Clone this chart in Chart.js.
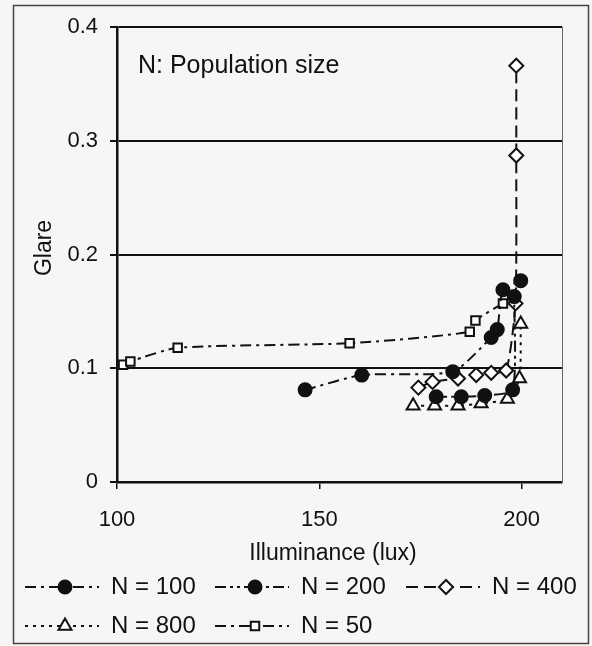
<!DOCTYPE html>
<html>
<head>
<meta charset="utf-8">
<script src="https://cdn.jsdelivr.net/npm/chart.js@4/dist/chart.umd.min.js"></script>
<style>
  html, body { margin: 0; padding: 0; background: #f6f6f4; }
  canvas { display: block; }
</style>
</head>
<body>
<canvas id="glareChart" width="592" height="646"></canvas>
<script>
// Glare vs. illuminance for different population sizes
const seriesLabels = ["N = 100", "N = 200", "N = 400", "N = 800", "N = 50"];

const lux100 = [146.5, 160.5, 183.0, 192.5, 194.0, 195.4, 199.8];
const glare100 = [0.081, 0.094, 0.097, 0.127, 0.134, 0.169, 0.177];

const lux200 = [178.9, 185.1, 190.9, 197.8, 198.2];
const glare200 = [0.075, 0.075, 0.076, 0.081, 0.163];

const lux400 = [174.5, 178.0, 184.3, 188.8, 192.5, 196.2, 198.5, 198.7, 198.7];
const glare400 = [0.083, 0.088, 0.091, 0.094, 0.096, 0.098, 0.157, 0.287, 0.366];

const lux800 = [173.2, 178.5, 184.3, 190.0, 196.5, 199.5, 199.8];
const glare800 = [0.067, 0.067, 0.067, 0.069, 0.073, 0.091, 0.139];

const lux50 = [101.5, 103.3, 115.0, 157.5, 187.2, 188.6, 195.4];
const glare50 = [0.103, 0.106, 0.118, 0.122, 0.132, 0.142, 0.157];

const xTicks = [100, 150, 200];
const yTicks = [0, 0.1, 0.2, 0.3, 0.4];

const FONT = "'Liberation Sans', Arial, sans-serif";
Chart.defaults.font.family = FONT;
Chart.defaults.color = "#111";

function toPoints(xs, ys) {
    return xs.map((x, i) => ({ x: x, y: ys[i] }));
}

function makeSeries(label, xs, ys, dash, style, fill, radius) {
    return {
        label: label,
        data: toPoints(xs, ys),
        showLine: true,
        borderColor: "#111",
        borderWidth: 2,
        borderDash: dash,
        tension: 0.2,
        pointStyle: style,
        pointRadius: radius,
        pointBorderWidth: 2,
        pointBackgroundColor: fill,
        pointBorderColor: "#111"
    };
}

const datasets = [
    makeSeries(seriesLabels[0], lux100, glare100, [11, 5, 3, 5], "circle", "#111", 6.5),
    makeSeries(seriesLabels[1], lux200, glare200, [11, 4, 3, 4, 3, 4], "circle", "#111", 6.5),
    makeSeries(seriesLabels[2], lux400, glare400, [12, 6], "rectRot", "#fff", 7),
    makeSeries(seriesLabels[3], lux800, glare800, [3, 5], "triangle", "#fff", 7.5),
    makeSeries(seriesLabels[4], lux50, glare50, [11, 5, 3, 5], "rect", "#fff", 6)
];

// legend slots: [left end of sample line, row y]
const legendSlots = [[25, 587], [215, 587], [406, 587], [25, 626], [215, 626]];

const decorations = {
    id: "decorations",
    beforeDraw(chart) {
        const ctx = chart.ctx;
        ctx.save();
        ctx.fillStyle = "#f6f6f4";
        ctx.fillRect(0, 0, chart.width, chart.height);
        ctx.strokeStyle = "#444";
        ctx.lineWidth = 1.5;
        ctx.strokeRect(13.5, 5.5, chart.width - 17, chart.height - 8);
        ctx.restore();
    },
    afterDraw(chart) {
        const ctx = chart.ctx;
        const area = chart.chartArea;
        ctx.save();
        // right edge of the plot box
        ctx.strokeStyle = "#666";
        ctx.lineWidth = 1;
        ctx.beginPath();
        ctx.moveTo(area.right + 0.5, area.top);
        ctx.lineTo(area.right + 0.5, area.bottom);
        ctx.stroke();

        ctx.fillStyle = "#111";
        ctx.textBaseline = "middle";

        // annotation inside the plot
        ctx.font = "25px " + FONT;
        ctx.textAlign = "left";
        ctx.fillText("N: Population size", area.left + 21, 66);

        // axis titles
        ctx.font = "23px " + FONT;
        ctx.textAlign = "center";
        ctx.fillText("Illuminance (lux)", 333, 554);
        ctx.save();
        ctx.translate(45, 248);
        ctx.rotate(-Math.PI / 2);
        ctx.fillText("Glare", 0, 0);
        ctx.restore();

        // legend: dashed sample line, marker, label
        ctx.font = "24px " + FONT;
        chart.data.datasets.forEach((ds, i) => {
            const [x0, y] = legendSlots[i];
            const len = 74;
            ctx.save();
            ctx.strokeStyle = ds.borderColor;
            ctx.lineWidth = ds.borderWidth;
            ctx.setLineDash(ds.borderDash);
            ctx.beginPath();
            ctx.moveTo(x0, y);
            ctx.lineTo(x0 + len, y);
            ctx.stroke();
            ctx.restore();
            ctx.save();
            ctx.fillStyle = ds.pointBackgroundColor;
            ctx.strokeStyle = ds.pointBorderColor;
            ctx.lineWidth = ds.pointBorderWidth;
            Chart.helpers.drawPoint(ctx, {
                pointStyle: ds.pointStyle,
                radius: ds.pointRadius,
                borderWidth: ds.pointBorderWidth,
                rotation: 0
            }, x0 + 40, y);
            ctx.restore();
            ctx.textAlign = "left";
            ctx.fillText(ds.label, x0 + len + 12, y);
        });
        ctx.restore();
    }
};

new Chart(document.getElementById("glareChart"), {
    type: "scatter",
    data: { datasets: datasets },
    options: {
        responsive: false,
        animation: false,
        devicePixelRatio: 1,
        layout: { padding: { left: 0, right: 30, top: 27, bottom: 0 } },
        plugins: {
            legend: { display: false },
            tooltip: { enabled: false }
        },
        scales: {
            x: {
                type: "linear",
                min: 100,
                max: 210,
                afterFit(scale) { scale.height = 164; },
                afterBuildTicks(scale) { scale.ticks = xTicks.map(v => ({ value: v })); },
                grid: { drawOnChartArea: false, color: "#111", tickLength: 7, lineWidth: 1.5 },
                border: { color: "#111", width: 2.5 },
                ticks: { font: { size: 22 }, padding: 18, maxRotation: 0 }
            },
            y: {
                type: "linear",
                min: 0,
                max: 0.4,
                afterFit(scale) { scale.width = 117; },
                afterBuildTicks(scale) { scale.ticks = yTicks.map(v => ({ value: v })); },
                grid: { color: "#111", lineWidth: 2, tickLength: 7 },
                border: { color: "#111", width: 2.5 },
                ticks: {
                    font: { size: 22 },
                    padding: 12,
                    callback: v => (v === 0 ? "0" : v.toFixed(1))
                }
            }
        }
    },
    plugins: [decorations]
});
</script>
</body>
</html>
